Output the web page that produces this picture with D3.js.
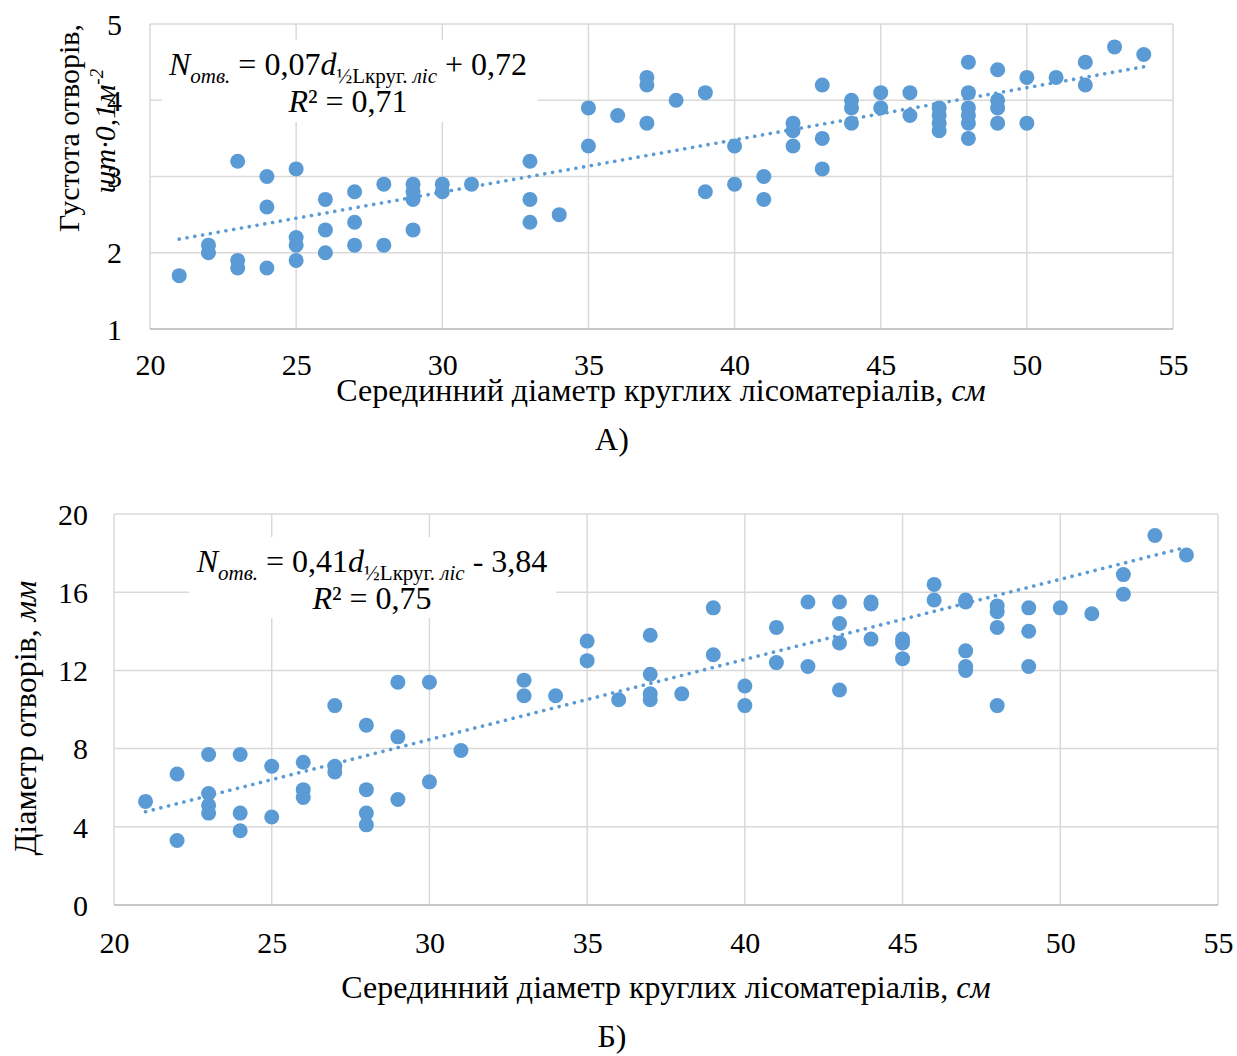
<!DOCTYPE html>
<html><head><meta charset="utf-8">
<script src="https://cdn.jsdelivr.net/npm/d3@7"></script>
<style>
body{margin:0;background:#fff;}
svg text{font-family:"Liberation Serif","Times New Roman",serif;fill:#000;}
</style></head>
<body><svg id="c" width="1237" height="1056"></svg>
<script>
// ---- data ----
const xTicks = [20,25,30,35,40,45,50,55];
const yTicksA = [1,2,3,4,5];
const yTicksB = [0,4,8,12,16,20];

// A) density of holes vs mid diameter
const densityX = [21,22,22,23,23,23,24,24,24,25,25,25,25,26,26,26,27,27,27,28,28,
  29,29,29,29,30,30,31,33,33,33,34,35,35,36,37,37,37,38,39,39,40,40,41,41,
  42,42,42,43,43,43,44,44,44,45,45,46,46,47,47,47,47,48,48,48,48,48,48,
  49,49,49,49,50,50,51,52,52,53,54];
const densityY = [1.7,2.1,2.0,3.2,1.9,1.8,3.0,2.6,1.8,3.1,2.2,2.1,1.9,2.7,2.3,2.0,2.8,2.4,2.1,2.9,2.1,
  2.9,2.8,2.7,2.3,2.9,2.8,2.9,3.2,2.7,2.4,2.5,3.9,3.4,3.8,4.3,4.2,3.7,4.0,4.1,2.8,3.4,2.9,3.0,2.7,
  3.7,3.6,3.4,4.2,3.5,3.1,4.0,3.9,3.7,4.1,3.9,4.1,3.8,3.9,3.8,3.7,3.6,4.5,4.1,3.9,3.8,3.7,3.5,
  4.4,4.0,3.9,3.7,4.3,3.7,4.3,4.5,4.2,4.7,4.6];
// trendline A as drawn (slope, intercept)
const trendA = [0.0685, 0.74];

// B) hole diameter vs mid diameter
const holeX = [21,22,22,23,23,23,23,24,24,24,25,25,26,26,26,27,27,27,28,28,28,28,
  29,29,29,30,30,31,33,33,34,35,35,36,37,37,37,37,38,39,39,40,40,41,41,42,42,
  43,43,43,43,44,44,44,45,45,45,46,46,47,47,47,47,47,48,48,48,48,49,49,49,
  50,51,52,52,53,54];
const holeY = [5.3,6.7,3.3,7.7,5.7,5.1,4.7,7.7,4.7,3.8,7.1,4.5,7.3,5.9,5.5,10.2,7.1,6.8,9.2,5.9,4.7,4.1,
  11.4,8.6,5.4,11.4,6.3,7.9,11.5,10.7,10.7,13.5,12.5,10.5,13.8,11.8,10.8,10.5,10.8,15.2,12.8,11.2,10.2,14.2,12.4,15.5,12.2,
  15.5,14.4,13.4,11.0,15.5,15.4,13.6,13.6,13.4,12.6,16.4,15.6,15.6,15.5,13.0,12.2,12.0,15.3,15.0,14.2,10.2,15.2,14.0,12.2,
  15.2,14.9,16.9,15.9,18.9,17.9];
// trendline B as drawn (slope, intercept)
const trendB = [0.41, -3.84];

const COLOR = "#5b9bd5";
const GRID = "#d9d9d9";
const svg = d3.select("#c");

function chart(cfg){
  const g = svg.append("g");
  const x = d3.scaleLinear().domain([20,55]).range([cfg.left, cfg.right]);
  const y = d3.scaleLinear().domain(cfg.yDomain).range([cfg.bottom, cfg.top]);

  g.append("g").selectAll("line").data(xTicks).join("line")
    .attr("x1",d=>x(d)).attr("x2",d=>x(d)).attr("y1",cfg.top).attr("y2",cfg.bottom)
    .attr("stroke",GRID).attr("stroke-width",1.5);
  g.append("g").selectAll("line").data(cfg.yTicks).join("line")
    .attr("x1",cfg.left).attr("x2",cfg.right).attr("y1",d=>y(d)).attr("y2",d=>y(d))
    .attr("stroke",GRID).attr("stroke-width",1.5);
  g.append("line").attr("x1",cfg.left).attr("x2",cfg.right).attr("y1",cfg.bottom).attr("y2",cfg.bottom)
    .attr("stroke","#bfbfbf").attr("stroke-width",1.5);

  const xa = g.append("g").attr("transform",`translate(0,${cfg.xTickY})`)
    .call(d3.axisBottom(x).tickValues(xTicks).tickFormat(d3.format("d")).tickSize(0).tickPadding(0));
  xa.select(".domain").remove();
  xa.selectAll("text").attr("font-size",30).attr("dy","0");
  const ya = g.append("g").attr("transform",`translate(${cfg.yTickX},0)`)
    .call(d3.axisLeft(y).tickValues(cfg.yTicks).tickFormat(d3.format("d")).tickSize(0).tickPadding(0));
  ya.select(".domain").remove();
  ya.selectAll("text").attr("font-size",30).attr("dy","0.34em");

  g.append("rect").attr("x",cfg.box[0]).attr("y",cfg.box[1]).attr("width",cfg.box[2]).attr("height",cfg.box[3]).attr("fill","#fff");

  g.append("g").selectAll("circle").data(cfg.xs.map((d,i)=>[d,cfg.ys[i]])).join("circle")
    .attr("cx",d=>x(d[0])).attr("cy",d=>y(d[1])).attr("r",7.5).attr("fill",COLOR);

  const [b,a] = cfg.trend;
  const x0 = d3.min(cfg.xs), x1 = d3.max(cfg.xs);
  g.append("line").attr("x1",x(x0)).attr("y1",y(a+b*x0)).attr("x2",x(x1)).attr("y2",y(a+b*x1))
    .attr("stroke",COLOR).attr("stroke-width",3.6).attr("stroke-linecap","round").attr("stroke-dasharray","0.1 7.8");

  const t1 = g.append("text").attr("x",cfg.eqX).attr("y",cfg.eqY).attr("text-anchor","middle").attr("font-size",32);
  t1.append("tspan").attr("font-style","italic").text("N");
  t1.append("tspan").attr("font-style","italic").attr("font-size",21).attr("dy",8).text("отв.");
  t1.append("tspan").attr("dy",-8).text(" = " + cfg.coef);
  t1.append("tspan").attr("font-style","italic").text("d");
  t1.append("tspan").attr("font-size",21).attr("dy",8).text("½Lкруг. ");
  t1.append("tspan").attr("font-size",21).attr("font-style","italic").text("ліс");
  t1.append("tspan").attr("dy",-8).text(" " + cfg.const);
  const t2 = g.append("text").attr("x",cfg.eqX).attr("y",cfg.eqY+37).attr("text-anchor","middle").attr("font-size",32);
  t2.append("tspan").attr("font-style","italic").text("R");
  t2.append("tspan").text("² = " + cfg.r2);

  const xt = g.append("text").attr("x",cfg.xTitleX).attr("y",cfg.xTitleY).attr("text-anchor","middle").attr("font-size",32);
  xt.append("tspan").text("Серединний діаметр круглих лісоматеріалів, ");
  xt.append("tspan").attr("font-style","italic").text("см");
  g.append("text").attr("x",cfg.letterX).attr("y",cfg.letterY).attr("text-anchor","middle").attr("font-size",32).text(cfg.letter);
  return g;
}

const gA = chart({left:150,right:1173,top:24,bottom:329,yDomain:[1,5],yTicks:yTicksA,
  xs:densityX, ys:densityY, trend:trendA, xTickY:375, yTickX:122, box:[162,40,376,82],
  eqX:348, eqY:75, coef:"0,07", const:"+ 0,72", r2:"0,71",
  xTitleX:661, xTitleY:401, letter:"А)", letterX:612, letterY:450});
gA.append("text").attr("transform","translate(79,128) rotate(-90)").attr("text-anchor","middle").attr("font-size",30)
  .text("Густота отворів,");
const yl2 = gA.append("text").attr("transform","translate(115,131) rotate(-90)").attr("text-anchor","middle").attr("font-size",30).attr("font-style","italic");
yl2.append("tspan").text("шт·0,1м");
yl2.append("tspan").attr("font-size",19).attr("dy",-12).text("-2");

const gB = chart({left:114,right:1218,top:514,bottom:905,yDomain:[0,20],yTicks:yTicksB,
  xs:holeX, ys:holeY, trend:trendB, xTickY:953, yTickX:88, box:[189,537,367,81],
  eqX:372, eqY:572, coef:"0,41", const:"- 3,84", r2:"0,75",
  xTitleX:666, xTitleY:998, letter:"Б)", letterX:612, letterY:1047});
const yb = gB.append("text").attr("transform","translate(36,718) rotate(-90)").attr("text-anchor","middle").attr("font-size",32);
yb.append("tspan").text("Діаметр отворів, ");
yb.append("tspan").attr("font-style","italic").text("мм");
</script></body></html>
